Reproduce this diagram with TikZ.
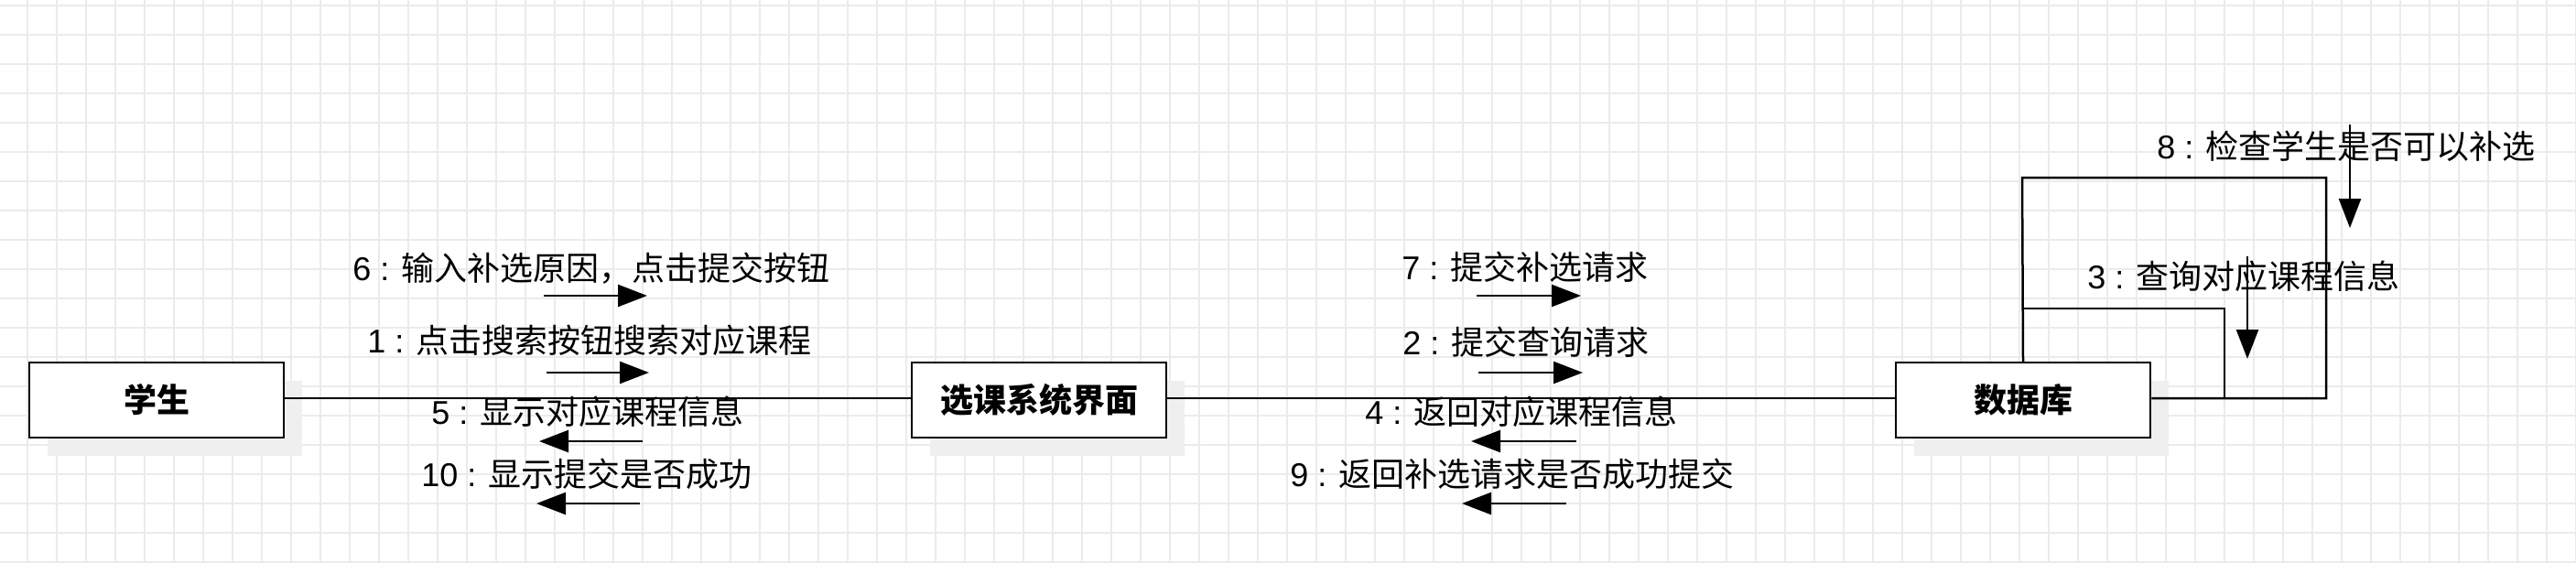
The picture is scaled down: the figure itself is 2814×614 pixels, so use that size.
\documentclass[tikz,border=0pt]{standalone}
\usepackage{fontspec}
\setmainfont{Liberation Sans}
\newfontfamily\cjk{Noto Sans CJK SC}
\usetikzlibrary{arrows.meta,shadows}
\definecolor{gridc}{HTML}{EBEBEB}
\definecolor{shadowc}{HTML}{EFEFEF}
\tikzset{
  obj/.style={draw=black, line width=2.5pt, fill=white, minimum width=278pt, minimum height=82pt, inner sep=0pt,
    font=\fontsize{36}{40}\selectfont\cjk\bfseries,
    general shadow={fill=shadowc, shadow xshift=20pt, shadow yshift=-20pt}},
  lbl/.style={inner sep=0pt, font=\fontsize{36}{40}\selectfont},
  msg/.style={line width=2.5pt, -{Triangle[length=32pt,width=24pt]}},
  link/.style={line width=2.5pt},
}
\newcommand\lab[2]{#1 : {\cjk #2}}
\begin{document}
\begin{tikzpicture}[x=1pt,y=-1pt]
\useasboundingbox (0,0) rectangle (2814,614);
\fill[white] (0,0) rectangle (2814,614);
\foreach \x in {30,62,...,2814} \draw[gridc, line width=1.2pt] (\x,0) -- (\x,614);
\foreach \y in {6,38,...,614} \draw[gridc, line width=1.2pt] (0,\y) -- (2814,\y);

% objects
\node[obj] (stu) at (171,437) {学生};
\node[obj] (ui) at (1135,437) {选课系统界面};
\node[obj] (db) at (2210,437) {数据库};

% links
\draw[link] (stu.east |- 0,435) coordinate (s1) -- (ui.west |- 0,435) coordinate (u1);
\draw[link] (ui.east |- 0,435) coordinate (u2) -- (db.west |- 0,435) coordinate (d1);
\coordinate (de) at (db.east |- 0,435);
\draw[link] (db.north) -- (2209,194) coordinate (lo1) -- (2541,194) coordinate (lo2) -- (2541,435) coordinate (lo3) -- (de);
\draw[link] (2209,337) coordinate (li1) -- (2430,337) coordinate (li2) -- (2430,435) coordinate (li3);

% labels
\node[lbl] (l6) at (646,293) {\lab{6}{输入补选原因，点击提交按钮}};
\node[lbl] (l1) at (644,372) {\lab{1}{点击搜索按钮搜索对应课程}};
\node[lbl] (l5) at (642,450) {\lab{5}{显示对应课程信息}};
\node[lbl] (l10) at (641,518) {\lab{10}{显示提交是否成功}};
\node[lbl] (l7) at (1666,292) {\lab{7}{提交补选请求}};
\node[lbl] (l2) at (1667,374) {\lab{2}{提交查询请求}};
\node[lbl] (l4) at (1662,450) {\lab{4}{返回对应课程信息}};
\node[lbl] (l9) at (1652,518) {\lab{9}{返回补选请求是否成功提交}};
\node[lbl] (l8) at (2563,160) {\lab{8}{检查学生是否可以补选}};
\node[lbl] (l3) at (2451,302) {\lab{3}{查询对应课程信息}};

% message arrows
\coordinate (a6s) at (594,323); \coordinate (a6e) at (707,323);
\coordinate (a1s) at (597,407); \coordinate (a1e) at (709,407);
\coordinate (a5s) at (702,482); \coordinate (a5e) at (589,482);
\coordinate (a10s) at (699,550); \coordinate (a10e) at (586,550);
\coordinate (a7s) at (1613,323); \coordinate (a7e) at (1727,323);
\coordinate (a2s) at (1615,407); \coordinate (a2e) at (1729,407);
\coordinate (a4s) at (1722,482); \coordinate (a4e) at (1607,482);
\coordinate (a9s) at (1711,550); \coordinate (a9e) at (1597,550);
\coordinate (a8s) at (2567,136); \coordinate (a8e) at (2567,249);
\coordinate (a3s) at (2455,280); \coordinate (a3e) at (2455,392);
\foreach \a in {6,1,5,10,7,2,4,9,8,3} \draw[msg] (a\a s) -- (a\a e);
\end{tikzpicture}
\end{document}
